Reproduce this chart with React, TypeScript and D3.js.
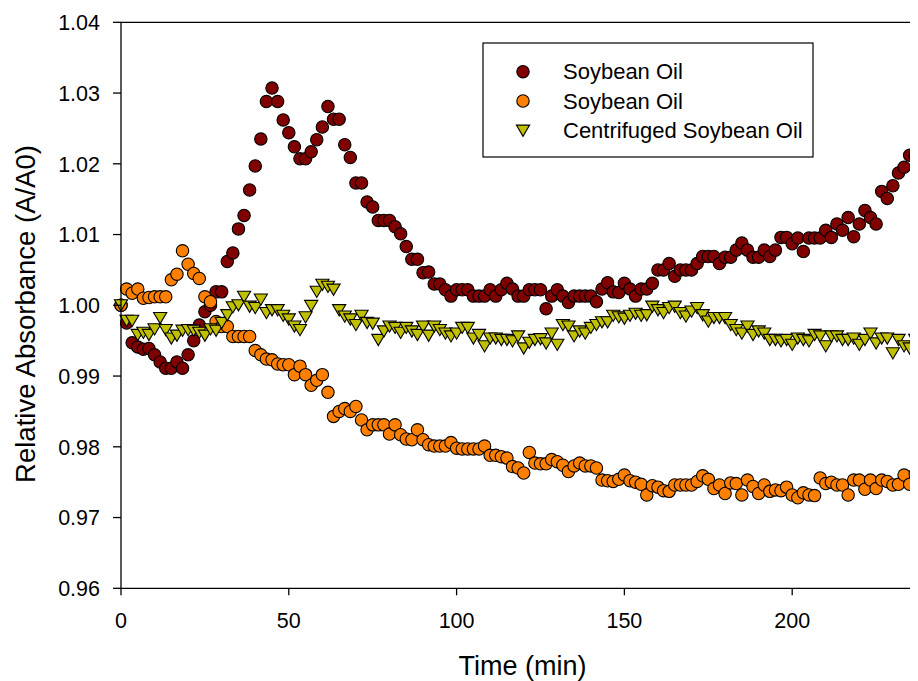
import React from "react";
import * as d3 from "d3";

// Time (min), sampling every 100 s
const TIME = [
  0, 1.67, 3.33, 5, 6.67, 8.33, 10, 11.67, 13.33, 15, 16.67, 18.33, 20, 21.67, 23.33, 25, 26.67, 28.33,
  30, 31.67, 33.33, 35, 36.67, 38.33, 40, 41.67, 43.33, 45, 46.67, 48.33, 50, 51.67, 53.33, 55, 56.67, 58.33,
  60, 61.67, 63.33, 65, 66.67, 68.33, 70, 71.67, 73.33, 75, 76.67, 78.33, 80, 81.67, 83.33, 85, 86.67, 88.33,
  90, 91.67, 93.33, 95, 96.67, 98.33, 100, 101.67, 103.33, 105, 106.67, 108.33, 110, 111.67, 113.33,
  115, 116.67, 118.33, 120, 121.67, 123.33, 125, 126.67, 128.33, 130, 131.67, 133.33, 135, 136.67, 138.33,
  140, 141.67, 143.33, 145, 146.67, 148.33, 150, 151.67, 153.33, 155, 156.67, 158.33, 160, 161.67, 163.33,
  165, 166.67, 168.33, 170, 171.67, 173.33, 175, 176.67, 178.33, 180, 181.67, 183.33, 185, 186.67, 188.33,
  190, 191.67, 193.33, 195, 196.67, 198.33, 200, 201.67, 203.33, 205, 206.67, 208.33, 210, 211.67, 213.33,
  215, 216.67, 218.33, 220, 221.67, 223.33, 225, 226.67, 228.33, 230, 231.67, 233.33, 235, 236.67, 238.33,
];

// Soybean Oil (dark red)
const SOY_A = [
  1.0, 0.9975, 0.9947, 0.9941, 0.9938, 0.9939, 0.993, 0.992, 0.9911, 0.9911, 0.992, 0.9911, 0.993, 0.995,
  0.9972, 0.9991, 1.0, 1.0019, 1.0019, 1.0062, 1.0074, 1.0108, 1.0127, 1.0163, 1.0197, 1.0235, 1.0288,
  1.0307, 1.0288, 1.0262, 1.0244, 1.0224, 1.0207, 1.0207, 1.0217, 1.0234, 1.0252, 1.0281, 1.0263, 1.0263,
  1.0227, 1.0209, 1.0173, 1.0173, 1.0146, 1.0139, 1.012, 1.012, 1.012, 1.0111, 1.0101, 1.0083, 1.0065,
  1.0065, 1.0046, 1.0047, 1.003, 1.003, 1.0022, 1.0013, 1.0022, 1.0022, 1.0022, 1.0013, 1.0013, 1.0013,
  1.0022, 1.0013, 1.0022, 1.0031, 1.0023, 1.0013, 1.0013, 1.0022, 1.0022, 1.0022, 0.9995, 1.0013, 1.0022,
  1.0013, 1.0004, 1.0013, 1.0013, 1.0013, 1.0013, 1.0005, 1.0023, 1.0032, 1.0019, 1.0018, 1.0031, 1.0023,
  1.0013, 1.0023, 1.0023, 1.0031, 1.005, 1.005, 1.0059, 1.0041, 1.005, 1.005, 1.005, 1.0059, 1.0069,
  1.0069, 1.0069, 1.0059, 1.0068, 1.0068, 1.0078, 1.0088, 1.0078, 1.0068, 1.0068, 1.0078, 1.0069, 1.0078,
  1.0096, 1.0096, 1.0087, 1.0095, 1.0076, 1.0095, 1.0095, 1.0095, 1.0106, 1.0096, 1.0115, 1.0106, 1.0124,
  1.0097, 1.0115, 1.0134, 1.0124, 1.0115, 1.0161, 1.0151, 1.0169, 1.0187, 1.0195, 1.0212, 1.0212, 1.0231,
];

// Soybean Oil (orange)
const SOY_B = [
  1.0, 1.0023, 1.0017, 1.0023, 1.001, 1.0011, 1.0012, 1.0012, 1.0012, 1.0036, 1.0044, 1.0077, 1.0058,
  1.0045, 1.0038, 1.0012, 1.0005, 0.9977, 0.997, 0.997, 0.9956, 0.9956, 0.9956, 0.9956, 0.9936, 0.993,
  0.9924, 0.9923, 0.9917, 0.9916, 0.9916, 0.9902, 0.9914, 0.9902, 0.9887, 0.9894, 0.9902, 0.9877, 0.9843,
  0.985, 0.9854, 0.985, 0.9857, 0.9838, 0.9824, 0.9831, 0.9831, 0.9831, 0.9818, 0.9831, 0.9817, 0.9811,
  0.981, 0.9824, 0.981, 0.9803, 0.9801, 0.9801, 0.9801, 0.9806, 0.9798, 0.9797, 0.9797, 0.9797, 0.9797,
  0.9801, 0.9788, 0.9788, 0.9786, 0.9784, 0.9772, 0.977, 0.9763, 0.9792, 0.9777, 0.9776, 0.9776, 0.9782,
  0.9779, 0.9774, 0.9765, 0.9773, 0.9777, 0.9773, 0.9773, 0.977, 0.9753, 0.9752, 0.9751, 0.9754, 0.976,
  0.9752, 0.975, 0.9747, 0.9732, 0.9745, 0.9743, 0.9738, 0.9737, 0.9746, 0.9746, 0.9746, 0.9746, 0.9751,
  0.9759, 0.9754, 0.9741, 0.9746, 0.9734, 0.9749, 0.9748, 0.9732, 0.9753, 0.9744, 0.9734, 0.9746, 0.9737,
  0.9739, 0.9738, 0.9743, 0.9732, 0.9728, 0.9735, 0.9732, 0.9731, 0.9756, 0.9748, 0.975, 0.9746, 0.9746,
  0.9732, 0.9753, 0.9753, 0.974, 0.9753, 0.9741, 0.9753, 0.9751, 0.9746, 0.9747, 0.976, 0.9747, 0.9762,
  0.9748,
];

// Centrifuged Soybean Oil (triangles)
const SOY_C = [
  1.0, 0.9978, 0.9978, 0.9958, 0.9961, 0.9958, 0.9966, 0.9982, 0.9965, 0.9953, 0.9957, 0.9964, 0.9965,
  0.9964, 0.9961, 0.9957, 0.9966, 0.9964, 0.9975, 0.9986, 0.9997, 1.0, 1.0012, 0.9998, 0.9996, 1.0008,
  0.9989, 0.9993, 0.9993, 0.9985, 0.998, 0.997, 0.9965, 0.9983, 0.9999, 1.0019, 1.0029, 1.0026, 1.0022,
  0.9993, 0.9984, 0.998, 0.9972, 0.9985, 0.9975, 0.9974, 0.9951, 0.9963, 0.997, 0.9968, 0.9961, 0.9968,
  0.9963, 0.9958, 0.997, 0.9957, 0.997, 0.9965, 0.996, 0.9956, 0.996, 0.9968, 0.9968, 0.9953, 0.9958,
  0.9942, 0.9953, 0.9953, 0.9951, 0.9951, 0.9949, 0.9956, 0.9939, 0.9947, 0.9951, 0.9952, 0.9946, 0.996,
  0.9944, 0.9972, 0.997, 0.9956, 0.9963, 0.996, 0.9968, 0.9972, 0.9976, 0.9976, 0.9985, 0.9983, 0.9981,
  0.9985, 0.9988, 0.9985, 0.9986, 0.9998, 0.9993, 0.9989, 0.9996, 0.9998, 0.9989, 0.9984, 0.9991, 0.9996,
  0.9986, 0.9977, 0.9982, 0.9982, 0.9982, 0.9972, 0.9965, 0.996, 0.997, 0.9958, 0.9963, 0.996, 0.9951,
  0.9951, 0.9949, 0.9951, 0.9944, 0.9953, 0.9951, 0.9949, 0.9958, 0.9956, 0.9942, 0.9956, 0.9956, 0.9951,
  0.9951, 0.9953, 0.9944, 0.9951, 0.996, 0.9946, 0.9953, 0.9953, 0.9932, 0.9951, 0.9942, 0.9939, 0.9951,
  0.9948,
];

const SERIES_NAMES = ["Soybean Oil", "Soybean Oil", "Centrifuged Soybean Oil"];
const X_TICKS = [0, 50, 100, 150, 200];
const Y_TICKS = [0.96, 0.97, 0.98, 0.99, 1.0, 1.01, 1.02, 1.03, 1.04];

const FONT = "'Liberation Sans', Arial, Helvetica, sans-serif";
const W = 910;
const H = 673;
const LEFT = 113;
const TOP = 14.3;
const BOTTOM = 580.3;
const PX_PER_MIN = 3.356;

const x = d3.scaleLinear().domain([0, 240]).range([LEFT, LEFT + 240 * PX_PER_MIN]);
const y = d3.scaleLinear().domain([0.96, 1.04]).range([BOTTOM, TOP]);
const fmt = d3.format(".2f");

const R = 6.2;
const triPath = (cx: number, cy: number) => {
  const hw = 6.6;
  const hh = 5.6;
  return `M${cx - hw},${cy - hh}L${cx + hw},${cy - hh}L${cx},${cy + hh}Z`;
};

const RED = "#800000";
const ORANGE = "#ff8000";
const OLIVE = "#c0c000";

export default function App() {
  const right = x.range()[1];
  return (
    <svg width={W} height={H} style={{ display: "block", fontFamily: FONT }}>
      <rect x={0} y={0} width={W} height={H} fill="#fff" />
      {/* data */}
      <g stroke="#000" strokeWidth={1.1}>
        {SOY_A.map((v, i) => (
          <circle key={"a" + i} cx={x(TIME[i])} cy={y(v)} r={R} fill={RED} />
        ))}
        {SOY_B.map((v, i) => (
          <circle key={"b" + i} cx={x(TIME[i])} cy={y(v)} r={R} fill={ORANGE} />
        ))}
        {SOY_C.map((v, i) => (
          <path key={"c" + i} d={triPath(x(TIME[i]), y(v))} fill={OLIVE} />
        ))}
      </g>
      {/* frame */}
      <g stroke="#000" strokeWidth={1.3} fill="none">
        <line x1={LEFT} y1={TOP} x2={LEFT} y2={BOTTOM} />
        <line x1={LEFT} y1={BOTTOM} x2={right} y2={BOTTOM} />
        <line x1={LEFT} y1={TOP} x2={right} y2={TOP} />
        {Y_TICKS.map((t) => (
          <line key={"yt" + t} x1={LEFT - 8} x2={LEFT} y1={y(t)} y2={y(t)} />
        ))}
        {X_TICKS.map((t) => (
          <line key={"xt" + t} x1={x(t)} x2={x(t)} y1={BOTTOM} y2={BOTTOM + 7} />
        ))}
      </g>
      <g fontSize={21.5} fill="#000">
        {Y_TICKS.map((t) => (
          <text key={"yl" + t} x={92} y={y(t) + 7.8} textAnchor="end">
            {fmt(t)}
          </text>
        ))}
        {X_TICKS.map((t) => (
          <text key={"xl" + t} x={x(t)} y={620} textAnchor="middle">
            {t}
          </text>
        ))}
      </g>
      <text x={514.5} y={666.5} fontSize={27} textAnchor="middle">
        Time (min)
      </text>
      <text
        transform={`translate(27,306) rotate(-90)`}
        fontSize={27.5}
        textAnchor="middle"
      >
        Relative Absorbance (A/A0)
      </text>
      {/* legend */}
      <g>
        <rect x={475} y={35} width={330} height={114} fill="#fff" stroke="#000" strokeWidth={1.2} />
        <circle cx={515} cy={63.7} r={R} fill={RED} stroke="#000" strokeWidth={1.1} />
        <circle cx={515} cy={93} r={R} fill={ORANGE} stroke="#000" strokeWidth={1.1} />
        <path d={triPath(515, 122.7)} fill={OLIVE} stroke="#000" strokeWidth={1.1} />
        <g fontSize={22}>
          <text x={555} y={71.3}>{SERIES_NAMES[0]}</text>
          <text x={555} y={100.7}>{SERIES_NAMES[1]}</text>
          <text x={555} y={130}>{SERIES_NAMES[2]}</text>
        </g>
      </g>
    </svg>
  );
}
